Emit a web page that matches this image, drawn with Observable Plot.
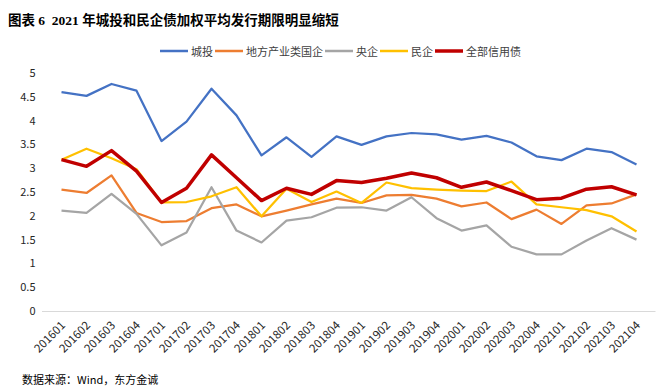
<!DOCTYPE html>
<html>
<head>
<meta charset="utf-8">
<script src="https://cdn.jsdelivr.net/npm/d3@7"></script>
<script src="https://cdn.jsdelivr.net/npm/@observablehq/plot@0.6"></script>
<style>
  html, body { margin: 0; padding: 0; background: #fff; }
  #wrap { position: relative; width: 668px; height: 386px; overflow: hidden;
    font-family: "Noto Sans CJK SC", "Noto Sans", sans-serif; color: #000; }
  #title { position: absolute; left: 8px; top: 11px; font-size: 13.5px; font-weight: bold;
    font-family: "Liberation Serif", "Noto Sans CJK SC", serif; white-space: nowrap; line-height: 20px; }
  #legend { position: absolute; left: 160px; top: 43px; height: 16px; display: flex; align-items: center;
    font-size: 11px; white-space: nowrap; color: #404040; }
  #legend .item { display: flex; align-items: center; margin-right: 2px; }
  #legend svg { margin-right: 3px; }
  #chart { position: absolute; left: 0; top: 60px; }
  #caption { position: absolute; left: 22px; top: 371px; font-size: 11px; line-height: 16px; white-space: nowrap; color: #000; }
</style>
</head>
<body>
<div id="wrap">
  <div id="title">图表 6&nbsp; 2021 年城投和民企债加权平均发行期限明显缩短</div>
  <div id="legend"></div>
  <div id="chart"></div>
  <div id="caption">数据来源：Wind，东方金诚</div>
</div>
<script>
const periods = ["201601","201602","201603","201604","201701","201702","201703","201704",
  "201801","201802","201803","201804","201901","201902","201903","201904",
  "202001","202002","202003","202004","202101","202102","202103","202104"];
const seriesNames = ["城投","地方产业类国企","央企","民企","全部信用债"];
const seriesColors = ["#4472C4","#ED7D31","#A5A5A5","#FFC000","#C00000"];
const seriesWidths = [2.25, 2.25, 2.25, 2.25, 3.5];
const yTicks = [0,0.5,1,1.5,2,2.5,3,3.5,4,4.5,5];

const chengtou = [4.61,4.53,4.78,4.64,3.58,3.99,4.68,4.12,3.28,3.66,3.25,3.68,3.50,3.68,3.75,3.72,3.61,3.69,3.55,3.26,3.18,3.42,3.35,3.09];
const difang   = [2.56,2.49,2.86,2.07,1.88,1.90,2.17,2.25,2.00,2.12,2.25,2.37,2.28,2.44,2.45,2.37,2.21,2.29,1.94,2.14,1.84,2.23,2.27,2.46];
const yangqi   = [2.12,2.07,2.47,2.05,1.39,1.66,2.61,1.70,1.45,1.91,1.98,2.18,2.19,2.12,2.40,1.96,1.70,1.81,1.36,1.20,1.20,1.49,1.75,1.51];
const minqi    = [3.19,3.42,3.22,2.99,2.29,2.30,2.42,2.61,2.00,2.58,2.30,2.52,2.28,2.71,2.59,2.56,2.54,2.53,2.73,2.25,2.19,2.13,2.00,1.68];
const quanbu   = [3.19,3.05,3.38,2.95,2.29,2.59,3.29,2.81,2.33,2.59,2.46,2.75,2.71,2.80,2.91,2.81,2.61,2.72,2.54,2.35,2.38,2.57,2.62,2.45];

const allValues = [chengtou, difang, yangqi, minqi, quanbu];
const data = [];
allValues.forEach((vals, si) => {
  vals.forEach((v, i) => data.push({series: seriesNames[si], period: periods[i], value: v}));
});

// legend
const legend = document.getElementById("legend");
seriesNames.forEach((name, i) => {
  const item = document.createElement("div");
  item.className = "item";
  item.innerHTML = `<svg width="28" height="6"><line x1="0" y1="3" x2="28" y2="3" stroke="${seriesColors[i]}" stroke-width="${i === 4 ? 3.5 : 2.5}"/></svg><span>${name}</span>`;
  legend.appendChild(item);
});

const lineMarks = seriesNames.map((name, i) =>
  Plot.line(data.filter(d => d.series === name), {
    x: "period", y: "value", stroke: seriesColors[i], strokeWidth: seriesWidths[i],
    strokeLinejoin: "round", strokeLinecap: "butt"
  })
);

const chart = Plot.plot({
  width: 668,
  height: 300,
  marginLeft: 42,
  marginRight: 12.5,
  marginTop: 13,
  marginBottom: 49,
  style: { fontFamily: "'Noto Sans CJK SC', 'Noto Sans', sans-serif", fontSize: "11px", background: "transparent", color: "#262626" },
  x: { type: "point", domain: periods, padding: 0.5 },
  y: { domain: [0, 5] },
  marks: [
    Plot.ruleY([0], { stroke: "#D9D9D9", strokeWidth: 1 }),
    Plot.axisY({ ticks: yTicks, tickSize: 0, tickPadding: 7, tickFormat: d => `${d}`, label: null, fontSize: 11 }),
    Plot.axisX({ tickSize: 0, tickPadding: 12, dx: 2, tickRotate: -45, label: null, fontSize: 11.5 }),
    ...lineMarks
  ]
});
document.getElementById("chart").appendChild(chart);
</script>
</body>
</html>
